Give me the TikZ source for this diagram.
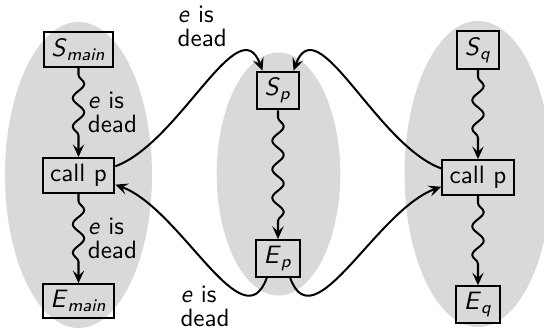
\documentclass[tikz,border=0pt]{standalone}
\usepackage{tikz}
\usetikzlibrary{arrows.meta,positioning,decorations.pathmorphing}
\newcommand{\vsub}[2]{\textit{#1}\textsubscript{\textit{#2}}}

\begin{document}
\begin{tikzpicture}[
  font=\sffamily, >={Stealth[length=5pt, width=4.5pt, inset=2pt]},
  blk/.style={draw=black, thick, inner xsep=3pt, inner ysep=2.5pt},
  zone/.style={fill=gray!30},
  wav/.style={->, thick, decorate, decoration={snake, amplitude=0.8mm, segment length=4mm, pre length=1mm, post length=2mm}},
  fl/.style={->, thick},
  lbl/.style={align=left, font=\sffamily\fontsize{10pt}{9.6pt}\selectfont}]
\useasboundingbox (0,0) rectangle (7.616,4.634);
% procedure regions
\fill[zone] (1.099,2.184) ellipse (1.029 and 2.142);
\fill[zone] (3.899,2.198) ellipse (0.865 and 1.701);
\fill[zone] (6.692,2.198) ellipse (1.029 and 2.142);
% main
\node[blk] (sml) at (1.099,3.941) {\vsub{S}{main}};
\node[blk, below=1.25cm of sml] (cpl) {call p};
\node[blk, below=1.25cm of cpl] (eml) {\vsub{E}{main}};
% p
\node[blk] (sp) at (3.892,3.367) {\vsub{S}{p}};
\node[blk, below=1.8cm of sp] (ep) {\vsub{E}{p}};
% q
\node[blk] (sq) at (6.692,3.934) {\vsub{S}{q}};
\node[blk, below=1.25cm of sq] (cpr) {call p};
\node[blk, below=1.25cm of cpr] (eq) {\vsub{E}{q}};
\draw[wav] (sml) -- node[lbl, right] (l1) {\textit{e} is\\dead} (cpl);
\draw[wav] (cpl) -- node[lbl, right] (l2) {\textit{e} is\\dead} (eml);
\draw[wav] (sp) -- (ep);
\draw[wav] (sq) -- (cpr);
\draw[wav] (cpr) -- (eq);
\draw[fl] (cpl.14) to[out=20, in=110] node[lbl, pos=0.73, above left] (l3) {\textit{e} is\\dead} (sp.128);
\draw[fl] (cpr.166) to[out=160, in=70] (sp.52);
\draw[fl] (ep.-120) to[out=-110, in=-20] (cpl.-14);
\draw[fl] (ep.-58) to[out=-70, in=200] (cpr.194);
\node[lbl, anchor=north west, inner sep=0pt] (l4) at (2.52,0.641) {\textit{e} is\\dead};
\end{tikzpicture}
\end{document}
